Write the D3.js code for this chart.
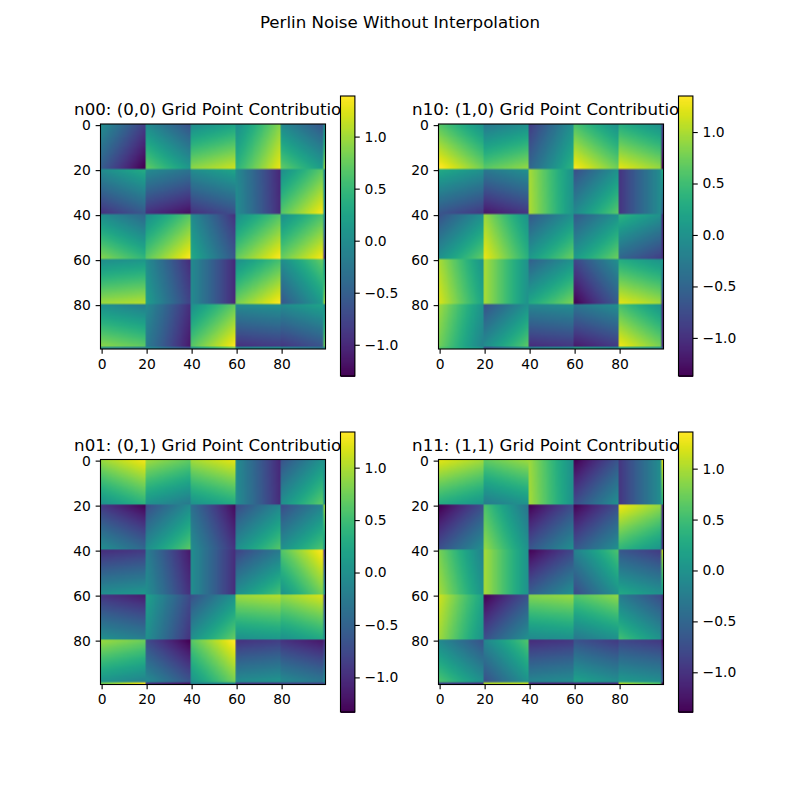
<!DOCTYPE html>
<html><head><meta charset="utf-8">
<script src="https://cdn.jsdelivr.net/npm/d3@7"></script>
<style>html,body{margin:0;padding:0;background:#fff}svg{display:block}text{font-family:"DejaVu Sans",sans-serif;fill:#000}</style>
</head><body>
<script>
const figureTitle = "Perlin Noise Without Interpolation";
const panelTitles = ["n00: (0,0) Grid Point Contribution","n10: (1,0) Grid Point Contribution","n01: (0,1) Grid Point Contribution","n11: (1,1) Grid Point Contribution"];
const panelCorner = [[0,0],[0,1],[1,0],[1,1]];   // [row offset, column offset] of the grid point
const colorMin = [-1.30,-1.37,-1.33,-1.39];
const colorMax = [1.39,1.35,1.34,1.36];
const imageTicks = [0,20,40,60,80];
const colorTicks = [-1,-0.5,0,0.5,1];
// gradient at each grid point, read from the cells of the picture (row component, column component)
// rows 6 and 7 are the last image row of n01 and n11, read separately
const gradRow = [
 [-.55,.77,.95,.42,.78,.93,-.6],
 [-.93,-.95,-.95,.03,.67,0,-.95],
 [.9,.72,.35,.75,.75,-.9,0],
 [1,.2,0,.82,-.6,.95,-1],
 [.95,-.2,.7,-.97,-.93,.8,0],
 [-.97,.75,-.65,.98,.96,.98,.75],
 [-.75,.9,.15,.85,.75,.6,.7],
 [0,.95,-1.1,1.05,1,-.55,.7]];
const gradCol = [
 [-.83,-.63,.27,.9,-.6,-.35,.8],
 [.37,-.28,.28,-1,.74,.99,-.3],
 [-.43,.69,-.93,.65,.65,-.42,1],
 [.1,-.98,-1,.57,.8,-.3,-.1],
 [-.2,-.95,.72,.1,.3,-.55,1],
 [-.2,-.62,.76,.1,-.25,-.15,.6],
 [.6,-.25,.05,0,0,-.8,.7],
 [0,-.15,.05,0,0,-.5,.7]];

const svg = d3.select("body").append("svg").attr("width",800).attr("height",800);
svg.append("text").attr("x",400).attr("y",27.5).attr("text-anchor","middle").style("font-size","16.67px").text(figureTitle);

const N = 100, cells = 5;
const axesX = [100.5,438.5], axesY = [124,459.5], axesSize = 225;
const titleBaseline = [115,451];
const barTop = [96,432], barBottom = [376,712];
const barGap = 15, barW = 14.4;
const T = 1.11;

function field(p){
  const [dr,dc] = panelCorner[p], rows = [];
  for(let i=0;i<N;i++){
    const tr = i*cells/(N-1), ri = Math.floor(tr), fr = tr-ri, row = [];
    const rr = (dr && dc && ri===cells) ? 7 : ri+dr;
    for(let j=0;j<N;j++){
      const tc = j*cells/(N-1), ci = Math.floor(tc), fc = tc-ci;
      row.push(gradRow[rr][ci+dc]*(fr-dr)+gradCol[rr][ci+dc]*(fc-dc));
    }
    rows.push(row);
  }
  return rows;
}
function styleAxis(g){
  g.selectAll("line").attr("stroke","#000").attr("stroke-width",T);
  g.selectAll("path").attr("stroke","#000").attr("stroke-width",T);
  g.selectAll("text").style("font-size","13.89px").style("font-family",'"DejaVu Sans",sans-serif').attr("fill","#000");
}
panelTitles.forEach((title,p)=>{
  const ax = axesX[p%2], ay = axesY[p>>1];
  const color = d3.scaleSequential(d3.interpolateViridis).domain([colorMin[p],colorMax[p]]);
  const data = field(p);
  const c = document.createElement("canvas"); c.width=N; c.height=N;
  const ctx = c.getContext("2d");
  data.forEach((row,i)=>row.forEach((v,j)=>{ctx.fillStyle=color(v);ctx.fillRect(j,i,1,1);}));
  const g = svg.append("g");
  g.append("image").attr("href",c.toDataURL()).attr("x",ax).attr("y",ay).attr("width",axesSize).attr("height",axesSize).attr("preserveAspectRatio","none");
  const x = d3.scaleLinear().domain([-0.5,99.5]).range([ax,ax+axesSize]);
  const y = d3.scaleLinear().domain([-0.5,99.5]).range([ay,ay+axesSize]);
  const xa = g.append("g").attr("transform",`translate(0,${ay+axesSize})`).call(d3.axisBottom(x).tickValues(imageTicks).tickSize(4.86).tickPadding(4.86).tickFormat(d3.format("d")));
  const ya = g.append("g").attr("transform",`translate(${ax},0)`).call(d3.axisLeft(y).tickValues(imageTicks).tickSize(4.86).tickPadding(4.86).tickFormat(d3.format("d")));
  xa.select(".domain").remove(); ya.select(".domain").remove();
  styleAxis(xa); styleAxis(ya);
  g.append("rect").attr("x",ax).attr("y",ay).attr("width",axesSize).attr("height",axesSize).attr("fill","none").attr("stroke","#000").attr("stroke-width",T);
  g.append("text").attr("x",ax+axesSize/2).attr("y",titleBaseline[p>>1]).attr("text-anchor","middle").style("font-size","16.67px").text(title);
  // colorbar, drawn over the title as in the reference
  const bx = ax+axesSize+barGap, by0 = barTop[p>>1], by1 = barBottom[p>>1];
  const cy = d3.scaleLinear().domain([colorMin[p],colorMax[p]]).range([by1,by0]);
  const step = (colorMax[p]-colorMin[p])/256;
  const levels = d3.range(256).map(k=>colorMin[p]+k*step);
  g.append("g").attr("shape-rendering","crispEdges").selectAll("rect").data(levels).join("rect")
    .attr("x",bx).attr("width",barW)
    .attr("y",d=>cy(d+step)).attr("height",d=>cy(d)-cy(d+step)+1)
    .attr("fill",d=>color(d+step/2));
  const ca = g.append("g").attr("transform",`translate(${bx+barW},0)`).call(d3.axisRight(cy).tickValues(colorTicks).tickSize(4.86).tickPadding(4.86).tickFormat(d3.format(".1f")));
  ca.select(".domain").remove(); styleAxis(ca);
  g.append("rect").attr("x",bx).attr("y",by0).attr("width",barW).attr("height",by1-by0).attr("fill","none").attr("stroke","#000").attr("stroke-width",T);
});
</script>
</body></html>
